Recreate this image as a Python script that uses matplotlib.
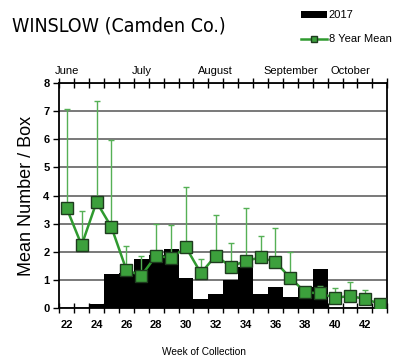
import numpy as np
import matplotlib
matplotlib.use("Agg")
import matplotlib.pyplot as plt
from matplotlib.lines import Line2D
from matplotlib.patches import Patch
from matplotlib import font_manager as fm

plt.rcParams['font.family'] = ['Liberation Sans', 'DejaVu Sans']

weeks = list(range(22, 44))
counts_2017 = [0, 0, 0.14, 1.21, 1.25, 1.74, 1.88, 2.08, 1.05, 0.31, 0.50,
               0.99, 1.46, 0.49, 0.74, 0.38, 0.74, 1.37, 0, 0, 0, 0]
mean_8yr = [3.54, 2.23, 3.77, 2.87, 1.35, 1.14, 1.86, 1.77, 2.15, 1.23, 1.86,
            1.46, 1.67, 1.79, 1.63, 1.06, 0.55, 0.51, 0.35, 0.42, 0.31, 0.14]
mean_upper = [7.07, 3.46, 7.38, 5.99, 2.20, 1.83, 2.99, 2.95, 4.29, 1.75, 3.32,
              2.29, 3.56, 2.57, 2.83, 1.99, 0.75, 0.79, 0.71, 0.93, 0.64, 0.14]
months = ["June", "July", "August", "September", "October"]
month_weeks = [22, 27, 32, 37, 41]

line_green = "#2f9a2f"
fill_green = "#3ca03c"
err_green = "#55b055"

fig = plt.figure(figsize=(3.96, 3.64), dpi=100)
ax = fig.add_axes([0.1497, 0.1547, 0.978 - 0.1497, 0.771 - 0.1547])

ax.bar(weeks, counts_2017, width=1.0, color="black", zorder=2)

w = np.array(weeks)
m = np.array(mean_8yr)
up = np.array(mean_upper) - m
ax.errorbar(w, m, yerr=[np.zeros_like(up), up], fmt="none", ecolor=err_green,
            elinewidth=1.0, capsize=2.5, capthick=1.0, zorder=3)
ax.plot(w, m, color=line_green, lw=1.8, marker="s", markersize=8,
        markerfacecolor=fill_green, markeredgecolor="#1e3b1e", markeredgewidth=1.0,
        zorder=4)

ax.set_xlim(21.5, 43.45)
ax.set_ylim(0, 8)
ax.set_yticks(range(0, 9))
ax.set_xticks(range(22, 43, 2))
ax.set_xticks(np.arange(21.5, 44, 1), minor=True)
ax.tick_params(axis="x", which="major", length=0, pad=9, labelsize=8)
ax.tick_params(axis="x", which="minor", direction="inout", length=7, width=1,
               top=True)
ax.tick_params(axis="y", direction="out", length=4, width=1, labelsize=8, pad=3)
for lab in ax.get_xticklabels() + ax.get_yticklabels():
    lab.set_fontweight("bold")

ax.grid(axis="y", color="#555555", lw=1.1, zorder=0)
ax.set_axisbelow(True)
for s in ax.spines.values():
    s.set_linewidth(1.3)

for name, wk in zip(months, month_weeks):
    ax.text(wk, 8.25, name, ha="center", va="bottom", fontsize=8)

ax.set_ylabel("Mean Number / Box", fontsize=13, labelpad=6)
fig.text(204 / 396, 1 - 352 / 364, "Week of Collection", ha="center",
         va="center", fontsize=7.3)

# the original title is a tall, narrow face; use a condensed one if there is one
narrow = fm.FontProperties(family="DejaVu Sans", stretch="condensed")
if "Condensed" in fm.findfont(narrow, fallback_to_default=False):
    title_kw = dict(family="DejaVu Sans", stretch="condensed", fontsize=14)
else:
    title_kw = dict(fontsize=13.5)
fig.text(12 / 396, 1 - 31 / 364, "WINSLOW (Camden Co.)", va="baseline",
         **title_kw)

handles = [Patch(facecolor="black"),
           Line2D([], [], color=line_green, lw=1.8, marker="s", markersize=5,
                  markerfacecolor=fill_green, markeredgecolor="#1e3b1e")]
fig.legend(handles, ["2017", "8 Year Mean"], loc="upper left",
           bbox_to_anchor=(0.735, 1.0), frameon=False, fontsize=8,
           handlelength=2.3, handleheight=0.6, handletextpad=0.2,
           labelspacing=1.3)

fig.savefig("out.png", dpi=100)
